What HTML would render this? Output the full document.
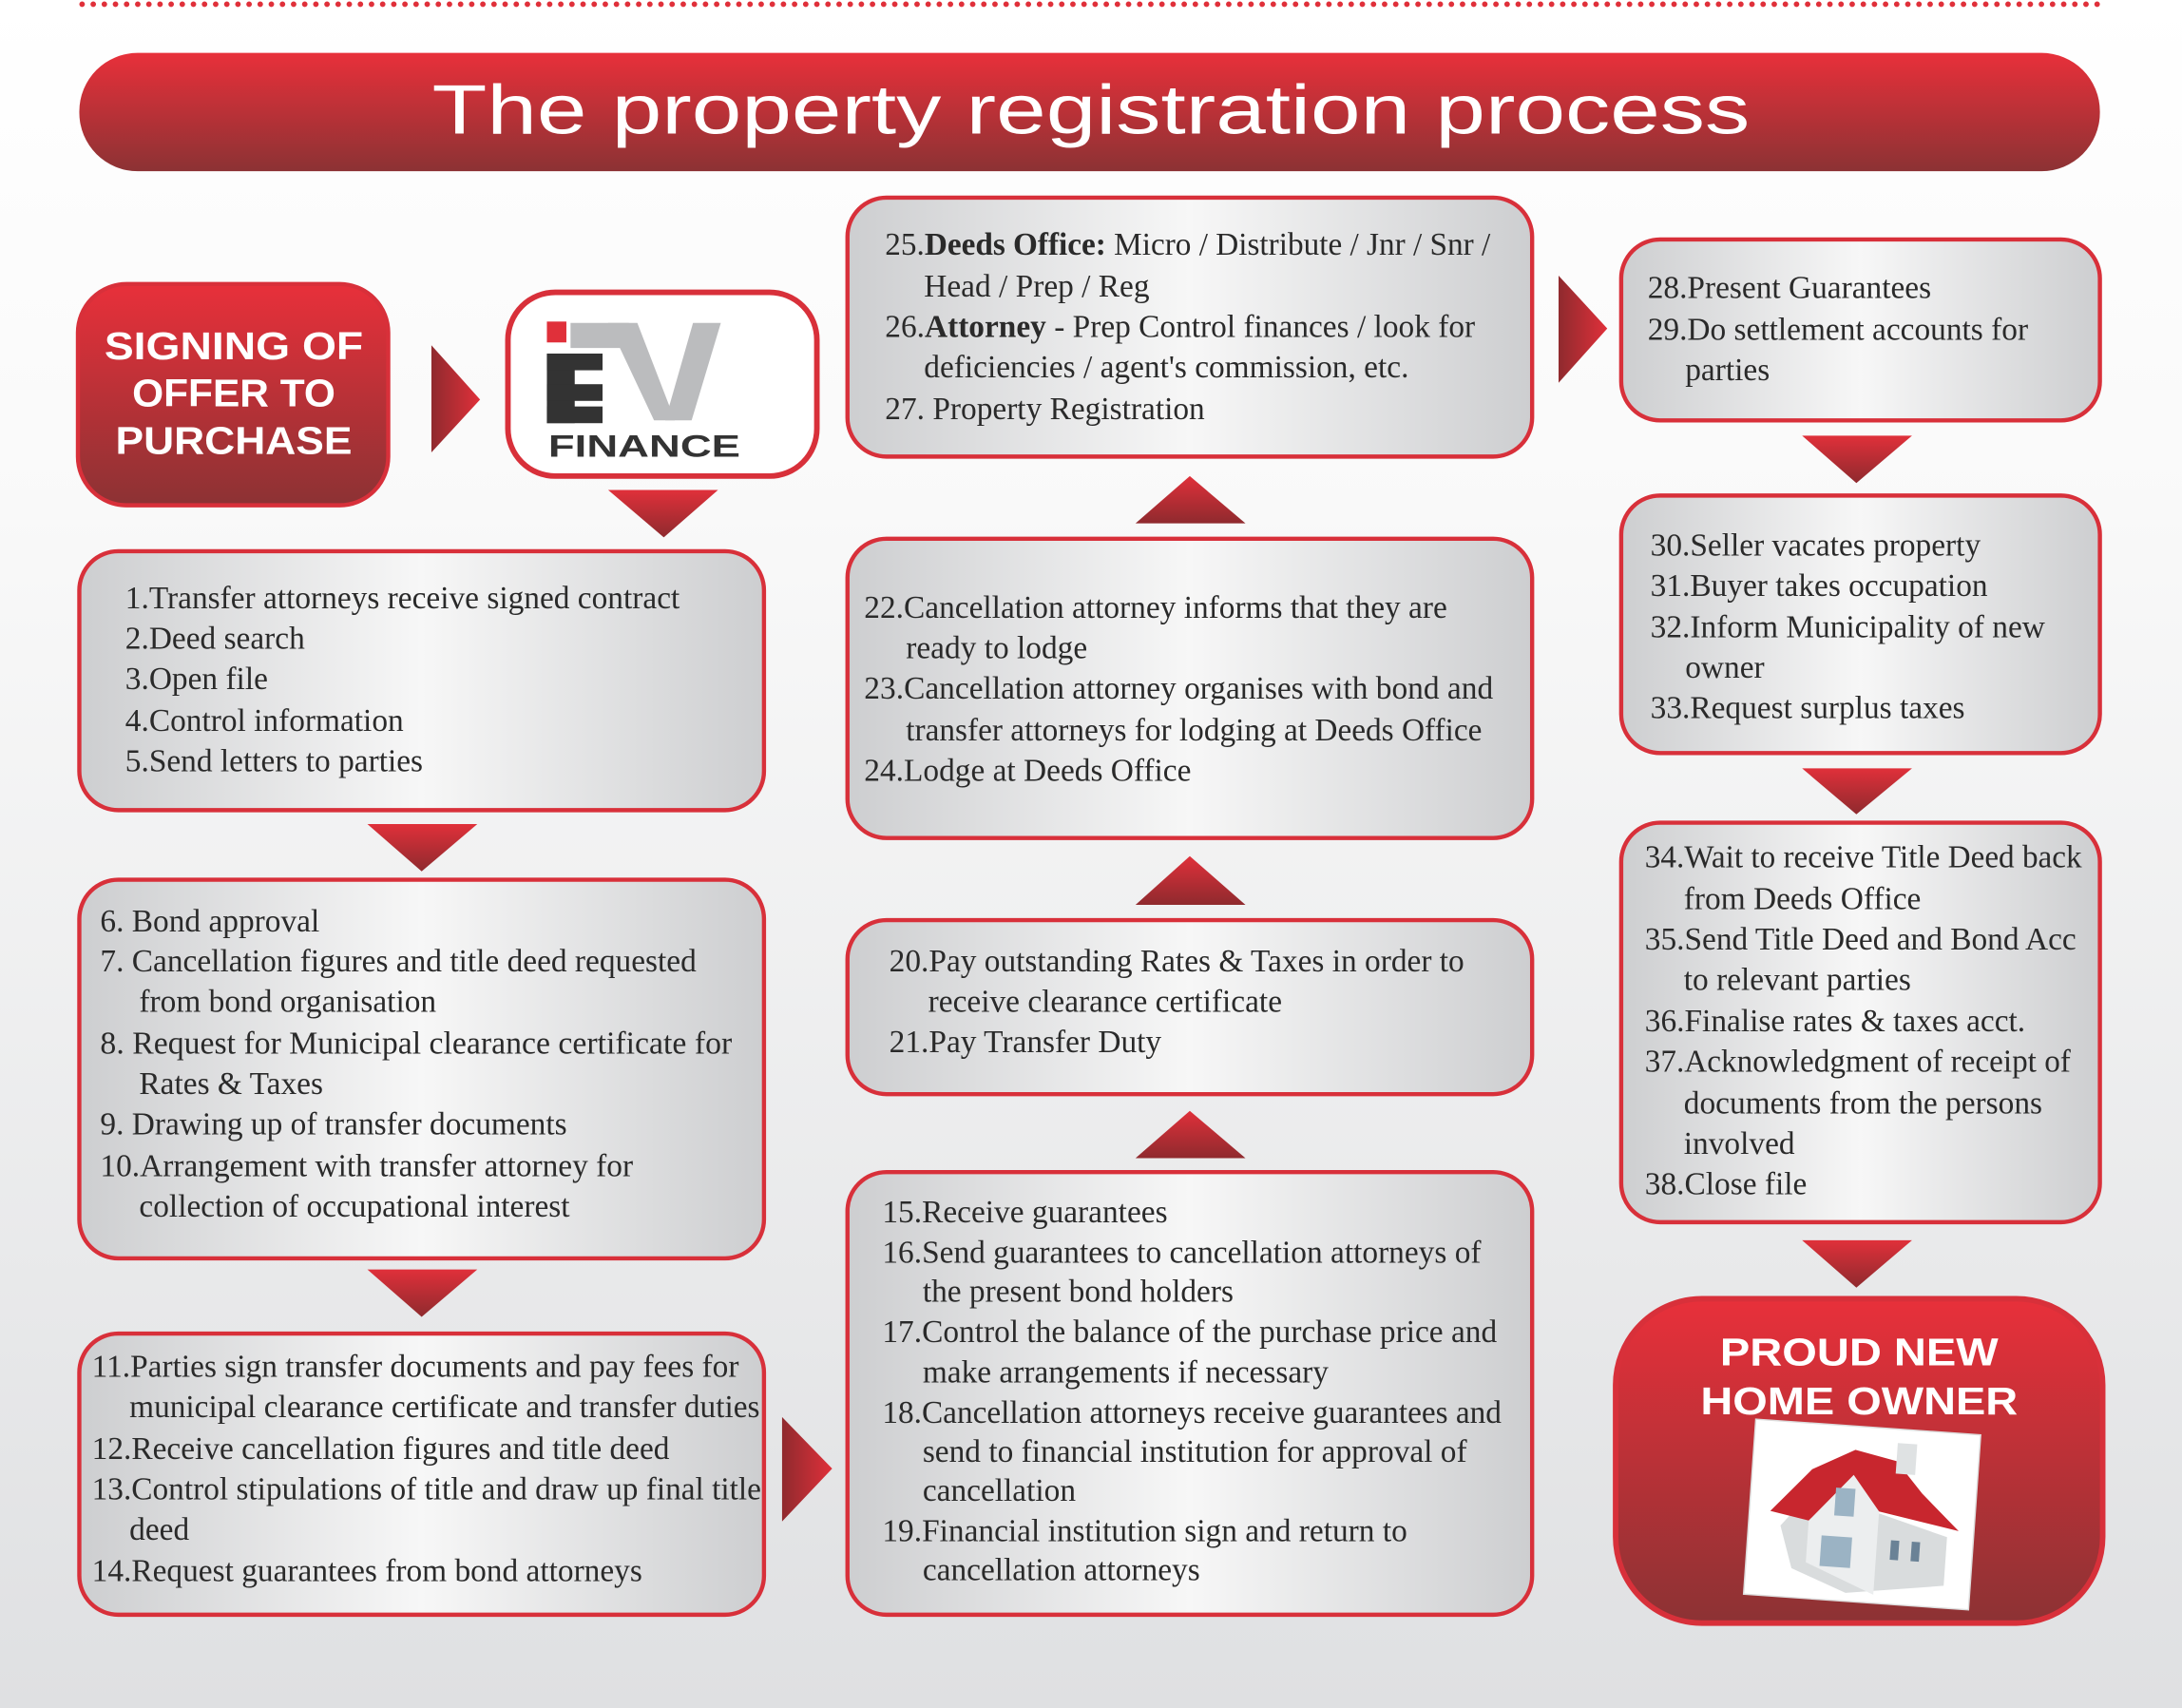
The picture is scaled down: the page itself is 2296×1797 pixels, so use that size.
<!DOCTYPE html>
<html><head><meta charset="utf-8"><style>
html,body{margin:0;padding:0;}
svg{display:block;}
.t{font-family:"Liberation Serif",serif;font-size:22.8px;fill:#2a2a2a;}
</style></head><body>
<svg width="2296" height="1797" viewBox="0 0 1568 1227" preserveAspectRatio="none" xmlns="http://www.w3.org/2000/svg">
<defs>
<linearGradient id="bg" x1="0" y1="0" x2="0" y2="1"><stop offset="0" stop-color="#ffffff"/><stop offset="0.3" stop-color="#f9f9f9"/><stop offset="1" stop-color="#dfe0e2"/></linearGradient>
<linearGradient id="red" x1="0" y1="0" x2="0" y2="1"><stop offset="0" stop-color="#e8303a"/><stop offset="1" stop-color="#8c3234"/></linearGradient>
<linearGradient id="box" x1="0" y1="0" x2="1" y2="0"><stop offset="0" stop-color="#cdced0"/><stop offset="0.5" stop-color="#f7f7f7"/><stop offset="1" stop-color="#cdced0"/></linearGradient>
<linearGradient id="arD" x1="0" y1="0" x2="1" y2="0"><stop offset="0" stop-color="#8f2a2e"/><stop offset="1" stop-color="#e0303a"/></linearGradient>
<linearGradient id="arV" x1="0" y1="0" x2="0" y2="1"><stop offset="0" stop-color="#e0303a"/><stop offset="1" stop-color="#8f2a2e"/></linearGradient>
<linearGradient id="arU" x1="0" y1="1" x2="0" y2="0"><stop offset="0" stop-color="#8f2a2e"/><stop offset="1" stop-color="#e0303a"/></linearGradient>
</defs>
<rect width="1568" height="1227" fill="url(#bg)"/>
<line x1="59" y1="3" x2="1510" y2="3" stroke="#e0303a" stroke-width="4" stroke-linecap="round" stroke-dasharray="0 8"/>
<rect x="57" y="38" width="1452" height="85" rx="42" fill="url(#red)"/>
<text x="784" y="96" text-anchor="middle" font-family="Liberation Sans,sans-serif" font-size="50" fill="#fff" textLength="947" lengthAdjust="spacingAndGlyphs">The property registration process</text>

<rect x="56" y="204" width="223" height="159" rx="35" fill="url(#red)" stroke="#d8303a" stroke-width="3"/>
<g font-family="Liberation Sans,sans-serif" font-weight="bold" font-size="28" fill="#fff" text-anchor="middle">
<text x="168" y="258" textLength="186" lengthAdjust="spacingAndGlyphs">SIGNING OF</text>
<text x="168" y="292" textLength="146" lengthAdjust="spacingAndGlyphs">OFFER TO</text>
<text x="168" y="326" textLength="170" lengthAdjust="spacingAndGlyphs">PURCHASE</text></g>
<polygon points="310,248 345,287 310,325" fill="url(#arD)"/>
<rect x="365" y="210" width="222" height="132" rx="34" fill="#fff" stroke="#d8303a" stroke-width="4"/>
<rect x="393" y="231" width="14" height="15" fill="#e0303a"/>
<polygon points="410,232 452,232 452,250 410,250" fill="#bbbcbe"/>
<polygon points="437,232 458,232 485,302 470,302" fill="#bbbcbe"/>
<polygon points="498,232 518,232 497,302 478,302" fill="#bbbcbe"/>
<rect x="393" y="254" width="20" height="50" fill="#333"/>
<rect x="393" y="254" width="40" height="12" fill="#333"/>
<rect x="393" y="276" width="40" height="12" fill="#333"/>
<rect x="393" y="292" width="40" height="12" fill="#333"/>
<text x="463" y="328" text-anchor="middle" font-family="Liberation Sans,sans-serif" font-weight="bold" font-size="22" fill="#333" textLength="138" lengthAdjust="spacingAndGlyphs">FINANCE</text>
<polygon points="437,352 516,352 477,386" fill="url(#arV)"/>

<rect x="57" y="396" width="492" height="186" rx="28" fill="url(#box)" stroke="#d8303a" stroke-width="3"/>
<g class="t"><text x="90" y="437">1.Transfer attorneys receive signed contract</text><text x="90" y="466">2.Deed search</text><text x="90" y="495">3.Open file</text><text x="90" y="525">4.Control information</text><text x="90" y="554">5.Send letters to parties</text></g>
<polygon points="264,592 343,592 303,626" fill="url(#arV)"/>

<rect x="57" y="632" width="492" height="272" rx="28" fill="url(#box)" stroke="#d8303a" stroke-width="3"/>
<g class="t"><text x="72" y="669">6.  Bond approval</text><text x="72" y="698">7.  Cancellation figures and title deed requested</text><text x="100" y="727">from bond organisation</text><text x="72" y="757" textLength="454" lengthAdjust="spacingAndGlyphs">8.  Request for Municipal clearance certificate for</text><text x="100" y="786">Rates &amp; Taxes</text><text x="72" y="815">9.  Drawing up of transfer documents</text><text x="72" y="845">10.Arrangement with transfer attorney for</text><text x="100" y="874">collection of occupational interest</text></g>
<polygon points="264,912 343,912 303,946" fill="url(#arV)"/>

<rect x="57" y="958" width="492" height="202" rx="28" fill="url(#box)" stroke="#d8303a" stroke-width="3"/>
<g class="t"><text x="66" y="989">11.Parties sign transfer documents and pay fees for</text><text x="93" y="1018" textLength="453" lengthAdjust="spacingAndGlyphs">municipal clearance certificate and transfer duties</text><text x="66" y="1048">12.Receive cancellation figures and title deed</text><text x="66" y="1077" textLength="481" lengthAdjust="spacingAndGlyphs">13.Control stipulations of title and draw up final title</text><text x="93" y="1106">deed</text><text x="66" y="1136">14.Request guarantees from bond attorneys</text></g>
<polygon points="562,1018 598,1055 562,1093" fill="url(#arD)"/>

<rect x="609" y="842" width="492" height="318" rx="28" fill="url(#box)" stroke="#d8303a" stroke-width="3"/>
<g class="t"><text x="634" y="878">15.Receive guarantees</text><text x="634" y="907">16.Send guarantees to cancellation attorneys of</text><text x="663" y="935">the present bond holders</text><text x="634" y="964">17.Control the balance of the purchase price and</text><text x="663" y="993">make arrangements if necessary</text><text x="634" y="1022" textLength="445" lengthAdjust="spacingAndGlyphs">18.Cancellation attorneys receive guarantees and</text><text x="663" y="1050">send to financial institution for approval of</text><text x="663" y="1078">cancellation</text><text x="634" y="1107">19.Financial institution sign and return to</text><text x="663" y="1135">cancellation attorneys</text></g>
<polygon points="816,832 895,832 855,798" fill="url(#arU)"/>

<rect x="609" y="661" width="492" height="125" rx="28" fill="url(#box)" stroke="#d8303a" stroke-width="3"/>
<g class="t"><text x="639" y="698">20.Pay outstanding Rates &amp; Taxes in order to</text><text x="667" y="727">receive clearance certificate</text><text x="639" y="756">21.Pay Transfer Duty</text></g>
<polygon points="816,650 895,650 855,615" fill="url(#arU)"/>

<rect x="609" y="387" width="492" height="215" rx="28" fill="url(#box)" stroke="#d8303a" stroke-width="3"/>
<g class="t"><text x="621" y="444">22.Cancellation attorney informs that they are</text><text x="651" y="473">ready to lodge</text><text x="621" y="502" textLength="452" lengthAdjust="spacingAndGlyphs">23.Cancellation attorney organises with bond and</text><text x="651" y="532" textLength="414" lengthAdjust="spacingAndGlyphs">transfer attorneys for lodging at Deeds Office</text><text x="621" y="561">24.Lodge at Deeds Office</text></g>
<polygon points="816,376 895,376 855,342" fill="url(#arU)"/>

<rect x="609" y="142" width="492" height="186" rx="28" fill="url(#box)" stroke="#d8303a" stroke-width="3"/>
<g class="t"><text x="636" y="183" textLength="435" lengthAdjust="spacingAndGlyphs">25.<tspan font-weight="bold">Deeds Office:</tspan> Micro / Distribute / Jnr / Snr /</text><text x="664" y="213">Head / Prep / Reg</text><text x="636" y="242" textLength="424" lengthAdjust="spacingAndGlyphs">26.<tspan font-weight="bold">Attorney</tspan> - Prep Control finances / look for</text><text x="664" y="271">deficiencies / agent's commission, etc.</text><text x="636" y="301">27. Property Registration</text></g>
<polygon points="1120,198 1155,236 1120,275" fill="url(#arD)"/>

<rect x="1165" y="172" width="344" height="130" rx="28" fill="url(#box)" stroke="#d8303a" stroke-width="3"/>
<g class="t"><text x="1184" y="214">28.Present Guarantees</text><text x="1184" y="244">29.Do settlement accounts for</text><text x="1211" y="273">parties</text></g>
<polygon points="1295,313 1374,313 1334,347" fill="url(#arV)"/>

<rect x="1165" y="356" width="344" height="185" rx="28" fill="url(#box)" stroke="#d8303a" stroke-width="3"/>
<g class="t"><text x="1186" y="399">30.Seller vacates property</text><text x="1186" y="428">31.Buyer takes occupation</text><text x="1186" y="458">32.Inform Municipality of new</text><text x="1211" y="487">owner</text><text x="1186" y="516">33.Request surplus taxes</text></g>
<polygon points="1295,552 1374,552 1334,585" fill="url(#arV)"/>

<rect x="1165" y="591" width="344" height="287" rx="28" fill="url(#box)" stroke="#d8303a" stroke-width="3"/>
<g class="t"><text x="1182" y="623" textLength="314" lengthAdjust="spacingAndGlyphs">34.Wait to receive Title Deed back</text><text x="1210" y="653">from Deeds Office</text><text x="1182" y="682" textLength="310" lengthAdjust="spacingAndGlyphs">35.Send Title Deed and Bond Acc</text><text x="1210" y="711">to relevant parties</text><text x="1182" y="741">36.Finalise rates &amp; taxes acct.</text><text x="1182" y="770" textLength="306" lengthAdjust="spacingAndGlyphs">37.Acknowledgment of receipt of</text><text x="1210" y="800">documents from the persons</text><text x="1210" y="829">involved</text><text x="1182" y="858">38.Close file</text></g>
<polygon points="1295,891 1374,891 1334,925" fill="url(#arV)"/>

<rect x="1161" y="933" width="350" height="233" rx="62" fill="url(#red)" stroke="#d8303a" stroke-width="4"/>
<g font-family="Liberation Sans,sans-serif" font-weight="bold" font-size="28" fill="#fff" text-anchor="middle">
<text x="1336" y="981" textLength="200" lengthAdjust="spacingAndGlyphs">PROUD NEW</text>
<text x="1336" y="1016" textLength="228" lengthAdjust="spacingAndGlyphs">HOME OWNER</text></g>
<g transform="rotate(4 1338 1090)">
<rect x="1257" y="1025" width="162" height="126" fill="#fff" stroke="#ddd"/>
<polygon points="1280,1100 1300,1075 1320,1070 1345,1085 1400,1100 1400,1135 1330,1145 1290,1130" fill="#d9dcdd"/>
<polygon points="1300,1125 1300,1082 1330,1050 1350,1082 1350,1145" fill="#eceeef"/>
<polygon points="1272,1090 1300,1058 1330,1042 1360,1048 1380,1070 1408,1095 1350,1085 1330,1060 1300,1095" fill="#c8262e"/>
<rect x="1360" y="1035" width="14" height="22" fill="#dfe2e3"/>
<rect x="1318" y="1070" width="14" height="20" fill="#9bb3c4"/>
<rect x="1310" y="1105" width="22" height="22" fill="#9bb3c4"/>
<rect x="1360" y="1105" width="6" height="14" fill="#6a8296"/><rect x="1375" y="1105" width="6" height="14" fill="#6a8296"/>
</g>
</svg>
</body></html>
